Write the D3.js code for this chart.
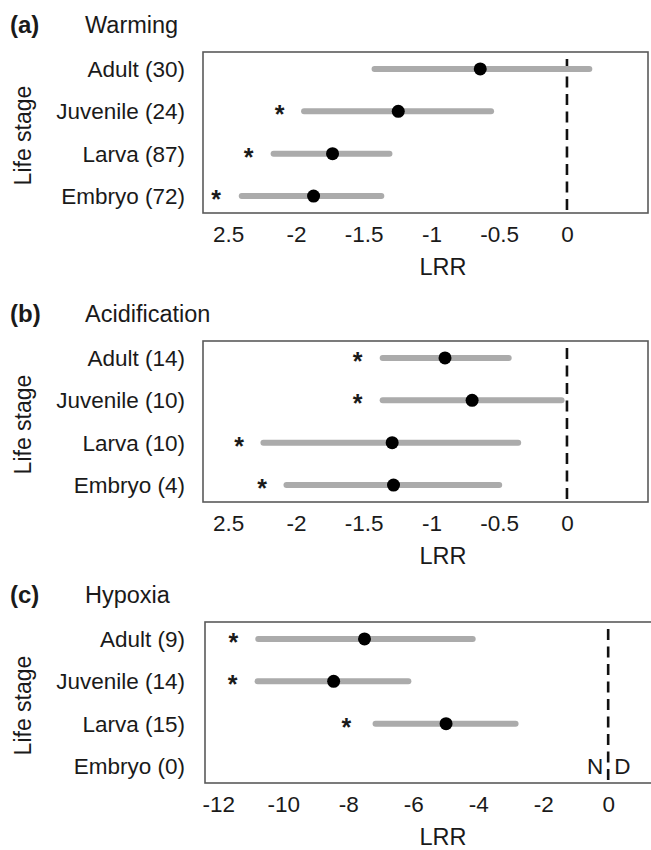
<!doctype html>
<html lang="en">
<head>
<meta charset="utf-8">
<title>LRR by life stage</title>
<style>
    body { margin: 0; background: white; }
    text { font-family: "Liberation Sans", Arial, sans-serif; fill: #1a1a1a; }
    .frame { fill: none; stroke: #5a5a5a; stroke-width: 1.6; }
    .ci { stroke: #ababab; stroke-width: 6; stroke-linecap: round; }
    .zero { stroke: #111; stroke-width: 2.6; stroke-dasharray: 11, 6.5; }
</style>
<script src="https://d3js.org/d3.v7.min.js"></script>
</head>
<body>
<div id="chart"></div>
<script>
// life stages (top to bottom)
var stages = ["Adult", "Juvenile", "Larva", "Embryo"];

// (a) warming
var warmN    = [30, 24, 87, 72];
var warmMean = [-0.64, -1.245, -1.73, -1.87];
var warmLow  = [-1.42, -1.94, -2.165, -2.40];
var warmHigh = [0.165, -0.56, -1.31, -1.37];
var warmStar = [null, -2.12, -2.35, -2.59];

// (b) acidification
var acidN    = [14, 10, 10, 4];
var acidMean = [-0.90, -0.70, -1.29, -1.28];
var acidLow  = [-1.36, -1.36, -2.24, -2.07];
var acidHigh = [-0.43, -0.04, -0.36, -0.50];
var acidStar = [-1.545, -1.545, -2.42, -2.25];

// (c) hypoxia (no embryo data -> "ND")
var hypN    = [9, 14, 15, 0];
var hypMean = [-7.50, -8.45, -4.99, null];
var hypLow  = [-10.77, -10.79, -7.16, null];
var hypHigh = [-4.17, -6.15, -2.85, null];
var hypStar = [-11.54, -11.56, -8.06, null];

// tick values and their printed labels
var ticksAB  = [-2.5, -2, -1.5, -1, -0.5, 0];
var labelsAB = ["2.5", "-2", "-1.5", "-1", "-0.5", "0"];
var ticksC   = [-12, -10, -8, -6, -4, -2, 0];
var labelsC  = ["-12", "-10", "-8", "-6", "-4", "-2", "0"];

var W = 651, H = 850;
var svg = d3.select("#chart").append("svg")
    .attr("width", W)
    .attr("height", H);

var panels = [
    { tag: "(a)", title: "Warming", n: warmN, mean: warmMean, low: warmLow, high: warmHigh, star: warmStar,
      domain: [-2.686, 0.598], left: 203, right: 648, top: 52, ticks: ticksAB, tickLabels: labelsAB, nd: false },
    { tag: "(b)", title: "Acidification", n: acidN, mean: acidMean, low: acidLow, high: acidHigh, star: acidStar,
      domain: [-2.686, 0.598], left: 203, right: 648, top: 341, ticks: ticksAB, tickLabels: labelsAB, nd: false },
    { tag: "(c)", title: "Hypoxia", n: hypN, mean: hypMean, low: hypLow, high: hypHigh, star: hypStar,
      domain: [-12.41, 1.38], left: 205, right: 653, top: 622, ticks: ticksC, tickLabels: labelsC, nd: true }
];

var boxH = 161;
var fs = 22.5;

panels.forEach(function(p) {
    var g = svg.append("g");
    var bottom = p.top + boxH;

    var x = d3.scaleLinear().domain(p.domain).range([p.left, p.right]);
    var y = d3.scalePoint().domain(stages).range([p.top, bottom]).padding(0.4);

    var rows = stages.map(function(s, i) {
        return { stage: s, n: p.n[i], mean: p.mean[i], low: p.low[i], high: p.high[i], star: p.star[i] };
    });

    // panel heading
    g.append("text")
        .attr("x", 10).attr("y", p.top - 19)
        .attr("font-size", 24).attr("font-weight", "bold")
        .text(p.tag);
    g.append("text")
        .attr("x", 85).attr("y", p.top - 19)
        .attr("font-size", 23.5)
        .text(p.title);

    // frame
    g.append("rect")
        .attr("class", "frame")
        .attr("x", p.left).attr("y", p.top)
        .attr("width", p.right - p.left).attr("height", boxH);

    // zero reference
    g.append("line")
        .attr("class", "zero")
        .attr("x1", x(0)).attr("x2", x(0))
        .attr("y1", p.top + 7).attr("y2", bottom);

    // x axis: labels only, no tick marks or domain line
    var xAxis = d3.axisBottom(x)
        .tickValues(p.ticks)
        .tickFormat(function(d, i) { return p.tickLabels[i]; })
        .tickSize(0)
        .tickPadding(0);
    var ax = g.append("g")
        .attr("transform", "translate(0," + bottom + ")")
        .call(xAxis);
    ax.select(".domain").remove();
    ax.selectAll("text")
        .attr("dy", null)
        .attr("y", 29)
        .attr("font-size", fs)
        .attr("font-family", "Liberation Sans, Arial, sans-serif")
        .attr("fill", "#1a1a1a");

    g.append("text")
        .attr("x", 443).attr("y", bottom + 62)
        .attr("text-anchor", "middle")
        .attr("font-size", 23.5)
        .text("LRR");

    // y labels
    g.selectAll(".ylab")
        .data(rows)
        .enter().append("text")
        .attr("class", "ylab")
        .attr("x", 185)
        .attr("y", function(d) { return y(d.stage); })
        .attr("dy", "0.36em")
        .attr("text-anchor", "end")
        .attr("font-size", fs)
        .text(function(d) { return d.stage + " (" + d.n + ")"; });

    g.append("text")
        .attr("transform", "translate(23," + (p.top + boxH / 2 + 3) + ") rotate(-90)")
        .attr("text-anchor", "middle")
        .attr("dy", "0.36em")
        .attr("font-size", 23)
        .text("Life stage");

    var has = rows.filter(function(d) { return d.mean != null; });

    // confidence intervals
    g.selectAll(".ci")
        .data(has)
        .enter().append("line")
        .attr("class", "ci")
        .attr("x1", function(d) { return x(d.low); })
        .attr("x2", function(d) { return x(d.high); })
        .attr("y1", function(d) { return y(d.stage); })
        .attr("y2", function(d) { return y(d.stage); });

    // means
    g.selectAll(".pt")
        .data(has)
        .enter().append("circle")
        .attr("class", "pt")
        .attr("cx", function(d) { return x(d.mean); })
        .attr("cy", function(d) { return y(d.stage); })
        .attr("r", 6.5)
        .attr("fill", "#000");

    // significance stars
    g.selectAll(".star")
        .data(rows.filter(function(d) { return d.star != null; }))
        .enter().append("text")
        .attr("class", "star")
        .attr("x", function(d) { return x(d.star); })
        .attr("y", function(d) { return y(d.stage) + 12; })
        .attr("text-anchor", "middle")
        .attr("font-size", 25)
        .attr("font-weight", "bold")
        .attr("fill", "#000")
        .text("*");

    if (p.nd) {
        var ey = y("Embryo");
        g.append("text")
            .attr("x", x(0) - 5).attr("y", ey).attr("dy", "0.36em")
            .attr("text-anchor", "end").attr("font-size", fs)
            .text("N");
        g.append("text")
            .attr("x", x(0) + 6).attr("y", ey).attr("dy", "0.36em")
            .attr("text-anchor", "start").attr("font-size", fs)
            .text("D");
    }
});
</script>
</body>
</html>
